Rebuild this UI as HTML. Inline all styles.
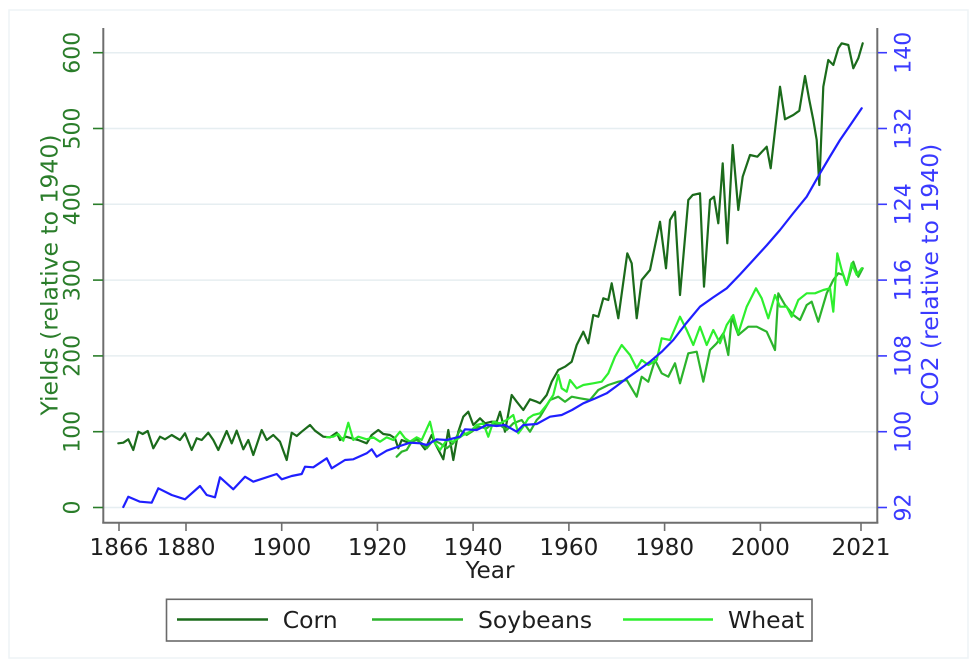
<!DOCTYPE html>
<html>
<head>
<meta charset="utf-8">
<style>
  html, body { margin:0; padding:0; background:#ffffff; }
  body { width:971px; height:669px; overflow:hidden; }
  svg { display:block; }
  text { font-family: "DejaVu Sans", "Liberation Sans", sans-serif; }
</style>
</head>
<body>
<svg width="971" height="669" viewBox="0 0 971 669" xmlns="http://www.w3.org/2000/svg">
  <rect x="0" y="0" width="971" height="669" fill="#ffffff"/>
  <!-- faint outer border -->
  <rect x="9" y="10" width="959" height="648" fill="none" stroke="#eef3f6" stroke-width="1.5"/>

  <!-- gridlines -->
  <g stroke="#e6eef1" stroke-width="1.5">
    <line x1="104" y1="507.5" x2="877" y2="507.5"/>
    <line x1="104" y1="431.7" x2="877" y2="431.7"/>
    <line x1="104" y1="355.9" x2="877" y2="355.9"/>
    <line x1="104" y1="280.1" x2="877" y2="280.1"/>
    <line x1="104" y1="204.3" x2="877" y2="204.3"/>
    <line x1="104" y1="128.5" x2="877" y2="128.5"/>
    <line x1="104" y1="52.7" x2="877" y2="52.7"/>
  </g>

  <!-- series -->
  <g fill="none" stroke-width="2.2" stroke-linejoin="round" stroke-linecap="round">
    <!-- Corn -->
    <polyline stroke="#1b6b1b" points="118.3,443.3 123.3,442.7 128.3,439.3 133.3,450 138.3,431.7 142.7,434 147.7,431 153.3,448.3 160,436.7 165,439.3 171.7,435 180,440 185,433.3 191.7,450 196.7,438.3 201.7,440 208.3,432.7 213.3,440 218.3,450 226.7,431 231.7,443.3 236.7,430.7 243.3,449.3 248.3,440 253.3,455 261.7,430 266.7,440 273.3,435 280,441.7 286.7,460 291.7,432.7 296.7,436 301.7,431.7 310,425 315,430.7 323.3,436.7 330,437.3 336.7,432.7 340,440 346,436.7 351.7,438.3 358.3,440 366.7,443.3 371.7,435 378.3,430 383.3,434 390,435 395,438.3 398.3,448.3 401.7,440 410,443.3 416.7,438.3 425,449.3 431.7,435 435,443.3 443.3,459.3 448.3,430 453.3,460 458.3,431.7 463.3,416.7 468.3,411.7 473.3,425 480,418.3 485,423.3 491.7,421.7 496.7,421.7 500,411.7 505,431.7 511.7,395 516.7,401.7 523.3,410 530,399.3 536.7,401.7 540,403.3 546.7,395 551.7,381.7 558.3,370 565,366.7 571.7,361.7 576.7,345 583.3,331.7 588.3,343.3 593.3,315 598.3,316.7 603.3,298.3 608.3,300 611.7,283.3 618.3,318.3 627.3,253.3 631.7,263.3 636.7,318.3 641.7,280 650,270 660,221.7 666,268.3 670,220 675,211.7 680,295 688.3,200 692.7,195 700,193.3 704,286.7 710,200 714,196.7 718.3,223.3 722.7,163.3 727.3,243.3 732.7,145 738.3,210 742.7,176.7 750,155 757.3,156.7 766.7,146.7 770.7,168.3 780,86.7 785,119.3 793.3,115 799.3,110.7 805,76 809.3,100 813.3,120 816.7,140 819.3,185 823.3,86.7 828.3,60 833.3,65 838.3,48.3 841.7,43.3 848.3,45 853.3,68.3 858.3,58.3 862.7,43.3"/>
    <!-- Soybeans -->
    <polyline stroke="#2cb42c" points="396.7,456.7 401.7,451.7 406.7,450 411.7,441.7 416.7,440 421.7,443.3 426.7,448.3 433.3,440 440,443.3 446.7,448.3 453.3,443.3 460,430 466.7,435 471.7,431.7 478.3,426.7 486.7,428.3 493.3,423.3 500,425 506.7,430 513.3,423.3 521.7,420 530,431.7 536.7,420 540,416.7 550,400 558.3,396.7 565,401.7 571.7,396.7 580,398.3 590,400 598.3,390 608.3,385 618.3,381.7 626.7,380 636.7,396.7 641.7,376.7 648.3,381.7 655,360 661.7,373.3 668.3,376.7 675,363.3 680,383.3 688.3,353.3 696.7,351.7 703.3,381.7 710,350 716.7,343.3 723.3,333.3 728.3,355 731.7,316.7 738.3,335 748.3,326.7 756.7,326.7 766.7,331.7 775,350 778.3,293.3 785,305 793.3,315 800,320 806.7,305 811.7,301.7 818.3,321.7 826.7,293.3 833.3,280 838.3,273.3 843.3,275 846.7,285 853.3,261.7 858.3,276.7 862.7,268.3"/>
    <!-- Wheat -->
    <polyline stroke="#2eef2e" points="326.7,437.3 333.3,436.7 338.3,434 343.3,440.7 348.3,422.7 353.3,440 358.3,436.7 366.7,439.3 373.3,437.3 380,441.7 386.7,437.3 393.3,440 400,431.7 405,438.3 410,441.7 416.7,437.3 421.7,440 430,421.7 435,443.3 440,450 446.7,440 453.3,441.7 458.3,438.3 463.3,435 470,431.7 476.7,425 483.3,423.3 488.3,436.7 493.3,421.7 500,423.3 506.7,420 513.3,415 518.3,433.3 523.3,426.7 528.3,418.3 533.3,415 540,413.3 546.7,405 553.3,395 558.3,375 561.7,388.3 566.7,391.7 570,380 576.7,388.3 583.3,385 593.3,383.3 601.7,381.7 608.3,373.3 615,356.7 621.7,345 630,355 636.7,368.3 641.7,360 648.3,365 656.7,360 661.7,338.3 670,340 680,316.7 686.7,330 693.3,345 700,326.7 706.7,345 713.3,330 720,343.3 726.7,325 733.3,315 738.3,333.3 746.7,306.7 756,288.3 761.7,298.3 768.3,318.3 775,295 780,306.7 786.7,306.7 791.7,316.7 798.3,300 806.7,293.3 815,293.3 823.3,290 830,288.3 833.3,311.7 837.3,253.3 841.7,270 846.7,285 851.7,263.3 856.7,275 861.7,268.3"/>
    <!-- CO2 -->
    <polyline stroke="#1f1fff" points="123.3,507 128.3,496.7 140,501.7 151.7,502.7 158.3,488.3 171.7,495 185,499.3 200,486 206.7,495 215,497.3 220,477.3 233.3,489.3 245,476.7 253.3,481.7 276.7,474 281.7,479.3 291.7,476 301.7,474 305,466.7 313.3,467.3 326.7,458.3 331.7,468.3 345,460 353.3,459.3 366.7,453.3 371.7,449.3 376.7,456.7 386.7,450.7 400,446 410,442.7 420,443.3 426.7,445 436.7,439.3 446.7,440 460,436.7 465,429.3 476.7,430 486.7,425 496.7,426 505,425 516.7,431.7 523.3,425 536.7,424 550,416.7 561.7,415 572,410 583.3,403.3 595,398.5 606.7,393.3 616,386.5 626.7,378.3 638,370.5 650,361.7 662,351.5 673.3,340 686,323.5 700,306.7 713,297.5 726.7,288.3 740,274.5 753.3,260 767,245 780,230 793,213.5 806.7,196.7 820,173.3 830,156.5 840,140 851,124 861.7,108.3"/>
  </g>

  <!-- axes frame -->
  <g stroke="#6e6e6e" stroke-width="2" fill="none">
    <line x1="103.3" y1="28" x2="103.3" y2="523.5"/>
    <line x1="877.3" y1="28" x2="877.3" y2="523.5"/>
    <line x1="102.3" y1="522.7" x2="878.3" y2="522.7"/>
  </g>

  <!-- left ticks -->
  <g stroke="#2a7d2a" stroke-width="1.6">
    <line x1="93" y1="507.5" x2="103" y2="507.5"/>
    <line x1="93" y1="431.7" x2="103" y2="431.7"/>
    <line x1="93" y1="355.9" x2="103" y2="355.9"/>
    <line x1="93" y1="280.1" x2="103" y2="280.1"/>
    <line x1="93" y1="204.3" x2="103" y2="204.3"/>
    <line x1="93" y1="128.5" x2="103" y2="128.5"/>
    <line x1="93" y1="52.7" x2="103" y2="52.7"/>
  </g>
  <!-- right ticks -->
  <g stroke="#3a3aff" stroke-width="1.6">
    <line x1="878" y1="507.5" x2="887" y2="507.5"/>
    <line x1="878" y1="431.7" x2="887" y2="431.7"/>
    <line x1="878" y1="355.9" x2="887" y2="355.9"/>
    <line x1="878" y1="280.1" x2="887" y2="280.1"/>
    <line x1="878" y1="204.3" x2="887" y2="204.3"/>
    <line x1="878" y1="128.5" x2="887" y2="128.5"/>
    <line x1="878" y1="52.7" x2="887" y2="52.7"/>
  </g>
  <!-- x ticks -->
  <g stroke="#6e6e6e" stroke-width="1.6">
    <line x1="119" y1="523" x2="119" y2="531"/>
    <line x1="186" y1="523" x2="186" y2="531"/>
    <line x1="281.7" y1="523" x2="281.7" y2="531"/>
    <line x1="377.4" y1="523" x2="377.4" y2="531"/>
    <line x1="473.1" y1="523" x2="473.1" y2="531"/>
    <line x1="568.9" y1="523" x2="568.9" y2="531"/>
    <line x1="664.6" y1="523" x2="664.6" y2="531"/>
    <line x1="760.4" y1="523" x2="760.4" y2="531"/>
    <line x1="861" y1="523" x2="861" y2="531"/>
  </g>

  <!-- left tick labels -->
  <g fill="#2a7d2a" font-size="22" text-anchor="middle">
    <text transform="translate(79.5,507.5) rotate(-90)">0</text>
    <text transform="translate(79.5,431.7) rotate(-90)">100</text>
    <text transform="translate(79.5,355.9) rotate(-90)">200</text>
    <text transform="translate(79.5,280.1) rotate(-90)">300</text>
    <text transform="translate(79.5,204.3) rotate(-90)">400</text>
    <text transform="translate(79.5,128.5) rotate(-90)">500</text>
    <text transform="translate(79.5,52.7) rotate(-90)">600</text>
  </g>
  <!-- right tick labels -->
  <g fill="#3a3aff" font-size="22" text-anchor="middle">
    <text transform="translate(910.5,507.5) rotate(-90)">92</text>
    <text transform="translate(910.5,431.7) rotate(-90)">100</text>
    <text transform="translate(910.5,355.9) rotate(-90)">108</text>
    <text transform="translate(910.5,280.1) rotate(-90)">116</text>
    <text transform="translate(910.5,204.3) rotate(-90)">124</text>
    <text transform="translate(910.5,128.5) rotate(-90)">132</text>
    <text transform="translate(910.5,52.7) rotate(-90)">140</text>
  </g>

  <!-- axis titles -->
  <text transform="translate(57.5,275) rotate(-90)" fill="#2a7d2a" font-size="23.5" text-anchor="middle">Yields (relative to 1940)</text>
  <text transform="translate(938,275) rotate(-90)" fill="#3a3aff" font-size="23.5" text-anchor="middle">CO2 (relative to 1940)</text>

  <!-- x tick labels -->
  <g fill="#1e1e1e" font-size="23.2" text-anchor="middle">
    <text x="119" y="555">1866</text>
    <text x="186" y="555">1880</text>
    <text x="281.7" y="555">1900</text>
    <text x="377.4" y="555">1920</text>
    <text x="473.1" y="555">1940</text>
    <text x="568.9" y="555">1960</text>
    <text x="664.6" y="555">1980</text>
    <text x="760.4" y="555">2000</text>
    <text x="861" y="555">2021</text>
  </g>
  <text x="490" y="578" fill="#1e1e1e" font-size="23.2" text-anchor="middle">Year</text>

  <!-- legend -->
  <rect x="166.5" y="599.3" width="645.5" height="41.7" fill="#ffffff" stroke="#6a6a6a" stroke-width="1.6"/>
  <line x1="177" y1="619.5" x2="268" y2="619.5" stroke="#1b6b1b" stroke-width="2.6"/>
  <text x="282.7" y="628" fill="#1e1e1e" font-size="23.5">Corn</text>
  <line x1="372" y1="619.5" x2="463" y2="619.5" stroke="#2cb42c" stroke-width="2.6"/>
  <text x="478" y="628" fill="#1e1e1e" font-size="23.5">Soybeans</text>
  <line x1="623" y1="619.5" x2="713" y2="619.5" stroke="#2eef2e" stroke-width="2.6"/>
  <text x="728" y="628" fill="#1e1e1e" font-size="23.5">Wheat</text>
</svg>
</body>
</html>
